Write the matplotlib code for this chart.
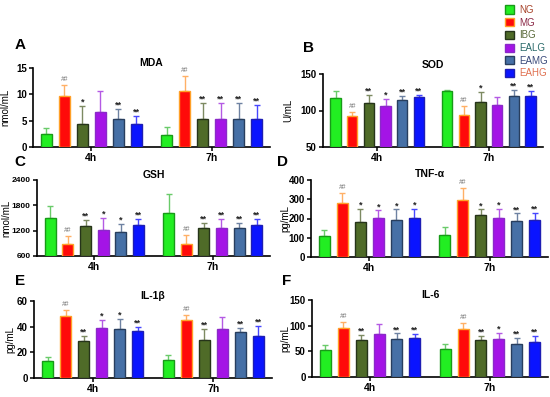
#!/usr/bin/env python

import matplotlib
matplotlib.use("Agg")
import matplotlib.pyplot as plt
from matplotlib.patches import Patch
import numpy as np

plt.rcParams['font.family'] = ['Liberation Sans', 'DejaVu Sans']

groups = ['NG', 'MG', 'IBG', 'EALG', 'EAMG', 'EAHG']
times = ['4h', '7h']

# means then upper SD, 4h six groups followed by 7h six groups
mda_mean = [2.55, 9.6, 4.4, 6.6, 5.4, 4.3, 2.25, 10.7, 5.3, 5.4, 5.3, 5.3]
mda_sd = [1.15, 2.2, 3.35, 4.0, 1.85, 1.6, 1.6, 2.7, 3.1, 2.9, 3.1, 2.7]
mda_sig = ['', '##', '*', '', '**', '**', '', '##', '**', '**', '**', '**']

sod_mean = [117, 92, 110.6, 105.6, 113.9, 118, 126.4, 94.4, 112, 107.4, 120, 120]
sod_sd = [9.4, 5.7, 11.2, 10.4, 6.5, 2.8, 2.3, 12.1, 13.5, 11.6, 8, 7]
sod_sig = ['', '##', '**', '*', '**', '**', '', '##', '*', '', '**', '**']

gsh_mean = [1492, 892, 1318, 1224, 1168, 1326, 1610, 884, 1263, 1271, 1263, 1342]
gsh_sd = [284, 182, 127, 268, 182, 142, 450, 206, 127, 197, 127, 134]
gsh_sig = ['', '##', '**', '*', '*', '**', '', '##', '**', '**', '**', '**']

tnf_mean = [108, 280, 184, 205, 193, 203, 115, 297, 216, 202, 186, 190]
tnf_sd = [34, 50, 66, 37, 54, 47, 40, 60, 31, 48, 40, 41]
tnf_sig = ['', '##', '*', '*', '*', '*', '', '##', '*', '*', '**', '**']

il1b_mean = [13.6, 48.6, 28.5, 38.8, 37.8, 36.5, 14.4, 45.5, 29.6, 38, 36, 33]
il1b_sd = [2.8, 4.4, 4.4, 6.4, 8, 3.6, 3.6, 3.3, 8.4, 9.3, 3.1, 7.4]
il1b_sig = ['', '##', '**', '*', '*', '**', '', '##', '**', '', '**', '**']

il6_mean = [53, 95, 72.5, 84, 74, 76.5, 55, 94, 72, 74.5, 64, 67.5]
il6_sd = [9.5, 11.5, 9, 19, 11, 7, 9.5, 11.5, 7.5, 12, 11.5, 12]
il6_sig = ['', '##', '**', '', '**', '**', '', '##', '**', '*', '**', '**']

fills = ['#22ee22', '#ff0a0a', '#4f6b28', '#a414e6', '#4670a6', '#0a14ff']
edges = ['#189a18', '#ffa028', '#26341a', '#8a2ac8', '#283e5e', '#1e1eb4']
errcol = ['#6acb6a', '#ffb066', '#7d8a62', '#b45ae4', '#6e82a2', '#4646ff']
legcol = ['#a8452c', '#8c2a48', '#5a6a3a', '#2a6a6a', '#3a4a7a', '#e07050']

panels = [
    ('A', 'MDA', 'nmol/mL', mda_mean, mda_sd, mda_sig, (0, 15), [0, 5, 10, 15]),
    ('B', 'SOD', 'U/mL', sod_mean, sod_sd, sod_sig, (50, 150), [50, 100, 150]),
    ('C', 'GSH', 'nmol/mL', gsh_mean, gsh_sd, gsh_sig, (600, 2400), [600, 1200, 1800, 2400]),
    ('D', 'TNF-α', 'pg/mL', tnf_mean, tnf_sd, tnf_sig, (0, 400), [0, 100, 200, 300, 400]),
    ('E', 'IL-1β', 'pg/mL', il1b_mean, il1b_sd, il1b_sig, (0, 60), [0, 20, 40, 60]),
    ('F', 'IL-6', 'pg/mL', il6_mean, il6_sd, il6_sig, (0, 150), [0, 50, 100, 150]),
]

W, H = 550, 397
# axes boxes in pixels: left, right, top, bottom
boxes_px = [
    (33, 270, 68, 147),
    (323, 543, 74, 147),
    (37, 270, 180, 256),
    (311, 548, 180, 257),
    (34, 272, 301, 378),
    (312, 548, 300, 377),
]
ylab_off = [23, 30, 26, 21, 19, 22]      # ylabel centre, px left of the axis
ytick_size = [7, 7, 6, 7, 7, 7]
title_pad = [0.8, 4, 0.5, 2, 1, 1.5]
letter_pos = [(20, 45), (309, 48), (20, 162), (283, 162), (20, 281), (287, 281)]

centers = [0.0, 6.7]
xpos = np.concatenate([c + np.arange(6) - 2.5 for c in centers])

fig = plt.figure(figsize=(5.5, 3.97), dpi=100)

for k, (letter, title, ylab, mean, sd, sig, ylim, yt) in enumerate(panels):
    l, r, t, b = boxes_px[k]
    ax = fig.add_axes((l / W, 1 - b / H, (r - l) / W, (b - t) / H))
    mean = np.array(mean)
    sd = np.array(sd)
    for i in range(12):
        g = i % 6
        ax.bar(xpos[i], mean[i] - ylim[0], bottom=ylim[0], width=0.62,
               color=fills[g], edgecolor=edges[g], linewidth=1.0, zorder=3)
        ax.errorbar(xpos[i], mean[i], yerr=[[0], [sd[i]]], fmt='none',
                    ecolor=errcol[g], elinewidth=1.0, capsize=2.5, capthick=1.0, zorder=2)
        if sig[i]:
            if sig[i] == '##':
                ax.annotate(sig[i], (xpos[i], mean[i] + sd[i]), xytext=(0, 1.5),
                            textcoords='offset points', ha='center', va='bottom',
                            fontsize=4.8, color='#777777', style='italic')
            else:
                ax.annotate(sig[i], (xpos[i], mean[i] + sd[i]), xytext=(0, -0.5),
                            textcoords='offset points', ha='center', va='bottom',
                            fontsize=6.5, fontweight='bold', color='#222222')
    ax.set_xlim(-3.25, 9.95)
    ax.set_ylim(*ylim)
    ax.set_yticks(yt)
    ax.set_xticks(centers)
    ax.set_xticklabels(times)
    for s in ['top', 'right']:
        ax.spines[s].set_visible(False)
    for s in ['left', 'bottom']:
        ax.spines[s].set_linewidth(1.2)
    ax.tick_params(axis='both', direction='out', length=3, width=1.1, pad=1.5)
    ax.tick_params(axis='y', labelsize=ytick_size[k])
    ax.tick_params(axis='x', labelsize=7.5)
    for tl in ax.get_xticklabels() + ax.get_yticklabels():
        tl.set_fontweight('bold')
    ax.set_ylabel(ylab, fontsize=7)
    ax.yaxis.set_label_coords(-ylab_off[k] / (r - l), 0.5)
    ax.set_title(title, fontsize=7.5, fontweight='bold', pad=title_pad[k])
    fig.text(letter_pos[k][0] / W, 1 - letter_pos[k][1] / H, letter, fontsize=11,
             fontweight='bold', ha='center', va='center')

handles = [Patch(facecolor=fills[i], edgecolor=edges[i], linewidth=1.0) for i in range(6)]
fig.legend(handles, groups, loc='upper left', bbox_to_anchor=(0.905, 1.005),
           frameon=False, fontsize=7, handlelength=1.0, handleheight=0.9,
           handletextpad=0.5, labelspacing=0.28, borderpad=0.2, labelcolor=legcol)

fig.savefig('out.png', dpi=100)
